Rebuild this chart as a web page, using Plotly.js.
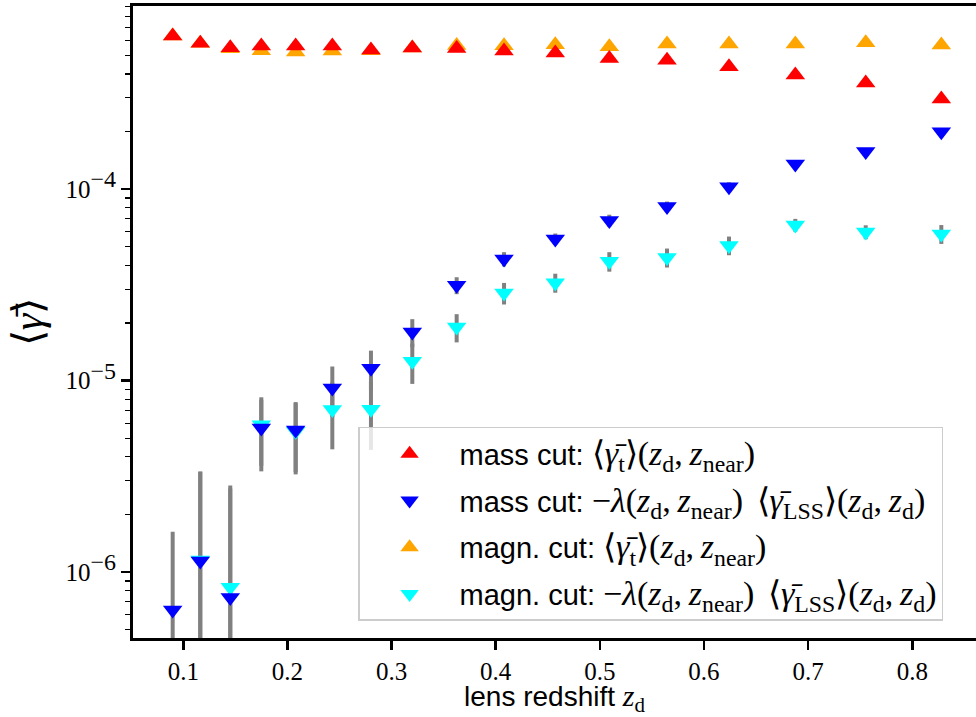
<!DOCTYPE html>
<html>
<head>
<meta charset="utf-8">
<script src="https://cdn.plot.ly/plotly-3.0.1.min.js"></script>
<style>html,body{margin:0;padding:0;background:#fff;}#chart{width:976px;height:717px;}</style>
</head>
<body>
<div id="chart"></div>
<script>
// lens redshift bins
const zLens = [0.0898, 0.1163, 0.1451, 0.1749, 0.2079, 0.2431, 0.2802, 0.3199, 0.3625, 0.4080, 0.4572, 0.5091, 0.5645, 0.6240, 0.6877, 0.7553, 0.8279];
// mass cut: <gamma_t>(z_d, z_near)
const massGammaT = [6.31e-4, 5.79e-4, 5.48e-4, 5.60e-4, 5.60e-4, 5.60e-4, 5.33e-4, 5.46e-4, 5.43e-4, 5.27e-4, 5.14e-4, 4.82e-4, 4.71e-4, 4.36e-4, 3.95e-4, 3.59e-4, 2.96e-4];
// magn. cut: <gamma_t>(z_d, z_near)
const magnGammaT = [6.31e-4, 5.79e-4, 5.42e-4, 5.29e-4, 5.21e-4, 5.27e-4, 5.29e-4, 5.46e-4, 5.64e-4, 5.62e-4, 5.68e-4, 5.55e-4, 5.74e-4, 5.74e-4, 5.74e-4, 5.82e-4, 5.67e-4];
// mass cut: -lambda <gamma_LSS>
const massGammaLSS = [6.35e-7, 1.144e-6, 7.38e-7, 5.66e-6, 5.53e-6, 9.16e-6, 1.16e-5, 1.796e-5, 3.15e-5, 4.32e-5, 5.50e-5, 6.87e-5, 8.12e-5, 1.03e-4, 1.355e-4, 1.576e-4, 1.997e-4];
// magn. cut: -lambda <gamma_LSS>
const magnGammaLSS = [null, 1.158e-6, 8.33e-7, 5.89e-6, 5.44e-6, 7.08e-6, 7.10e-6, 1.262e-5, 1.905e-5, 2.87e-5, 3.25e-5, 4.20e-5, 4.40e-5, 5.09e-5, 6.50e-5, 5.98e-5, 5.84e-5];
// uncertainties
const errGammaT = [5e-6, 5e-6, 5e-6, 5e-6, 5e-6, 5e-6, 5e-6, 5e-6, 5e-6, 5e-6, 5e-6, 6e-6, 6e-6, 6e-6, 6e-6, 7e-6, 7e-6];
const errGammaLSS = [9.9e-7, 2.2e-6, 2.0e-6, 2.3e-6, 2.2e-6, 2.7e-6, 2.75e-6, 3.0e-6, 3.2e-6, 3.7e-6, 3.7e-6, 4.9e-6, 5.0e-6, 5.7e-6, 5.0e-6, 5.0e-6, 6.6e-6];

const xTicks = [0.1, 0.2, 0.3, 0.4, 0.5, 0.6, 0.7, 0.8];
const yTicks = [1e-6, 1e-5, 1e-4];
const yTickExp = ['−6', '−5', '−4'];

const MATH = 'Liberation Serif';
const m = (s, size) => '<span style="font-family:' + MATH + ';font-size:' + size + 'px">' + s + '</span>';
const zd = '<i>z</i><sub>d</sub>';
const zn = '<i>z</i><sub>near</sub>';
const gT = '⟨<i>γ̄</i><sub>t</sub>⟩(' + zd + ',&#8201;' + zn + ')';
const gL = '−<i>λ</i>(' + zd + ',&#8201;' + zn + ')&#8201;&#8201;⟨<i>γ̄</i><sub>LSS</sub>⟩(' + zd + ',&#8201;' + zd + ')';
const LM = 34;

const series = [
  {name: 'mass cut: ' + m(gT, LM), y: massGammaT, err: errGammaT, color: '#ff0000', sym: 'triangle-up', rank: 1},
  {name: 'mass cut: ' + m(gL, LM), y: massGammaLSS, err: errGammaLSS, color: '#0000ff', sym: 'triangle-down', rank: 2},
  {name: 'magn. cut: ' + m(gT, LM), y: magnGammaT, err: errGammaT, color: '#ffa500', sym: 'triangle-up', rank: 3},
  {name: 'magn. cut: ' + m(gL, LM), y: magnGammaLSS, err: errGammaLSS, color: '#00ffff', sym: 'triangle-down', rank: 4}
];

const traces = [];
// error bars below all markers
series.forEach(s => traces.push({
  x: zLens, y: s.y, type: 'scatter', mode: 'markers', showlegend: false, hoverinfo: 'skip',
  marker: {size: 2, color: 'rgba(0,0,0,0)'},
  error_y: {type: 'data', array: s.err, visible: true, color: '#808080', thickness: 4, width: 0}
}));
// markers: orange & cyan drawn first, then red & blue on top
[2, 3, 0, 1].forEach(i => {
  const s = series[i];
  traces.push({
    x: zLens, y: s.y, type: 'scatter', mode: 'markers', name: s.name,
    legendrank: s.rank, legendgroup: 'g' + s.rank,
    marker: {symbol: s.sym, size: 17, color: s.color, line: {width: 0}}
  });
});

const minorVals = [];
for (let k = -7; k <= -3; k++) for (let d = 2; d <= 9; d++) minorVals.push(d * Math.pow(10, k));

const layout = {
  width: 976, height: 717,
  margin: {l: 133, r: 0, t: 6, b: 79},
  paper_bgcolor: '#ffffff', plot_bgcolor: '#ffffff',
  font: {family: 'Liberation Sans', color: '#000000'},
  showlegend: true,
  xaxis: {
    range: [0.0517, 0.8612], tickvals: xTicks, ticktext: xTicks.map(v => v.toFixed(1)),
    ticks: 'outside', ticklen: 9, tickwidth: 2.5, tickcolor: '#000',
    showline: true, linewidth: 3, linecolor: '#000', mirror: true,
    showgrid: false, zeroline: false,
    tickfont: {family: MATH, size: 25},
    title: {text: 'lens redshift ' + m(zd, 30), font: {size: 28, family: 'Liberation Sans'}, standoff: 14}
  },
  yaxis: {
    type: 'log', range: [-6.344, -3.043], tickvals: yTicks,
    ticktext: yTickExp.map(e => '10<sup><span style="font-size:24px">' + e + '</span></sup>'),
    ticks: 'outside', ticklen: 9, tickwidth: 2.5, tickcolor: '#000',
    showline: true, linewidth: 3, linecolor: '#000', mirror: false,
    showgrid: false, zeroline: false,
    tickfont: {family: MATH, size: 25},
    minor: {tickmode: 'array', tickvals: minorVals, ticks: 'outside', ticklen: 5, tickwidth: 1.2, tickcolor: '#000', showgrid: false},
    title: {text: '⟨<i>γ̄</i>⟩', font: {size: 42, family: MATH}, standoff: 10}
  },
  legend: {
    x: 0.267, y: 0.027, xanchor: 'left', yanchor: 'bottom',
    bgcolor: 'rgba(255,255,255,0.8)', bordercolor: '#cccccc', borderwidth: 1.5,
    font: {size: 29, family: 'Liberation Sans'}, tracegroupgap: 6, traceorder: 'grouped',
    itemwidth: 90
  }
};

Plotly.newPlot('chart', traces, layout, {displayModeBar: false, staticPlot: true});
</script>
</body>
</html>
